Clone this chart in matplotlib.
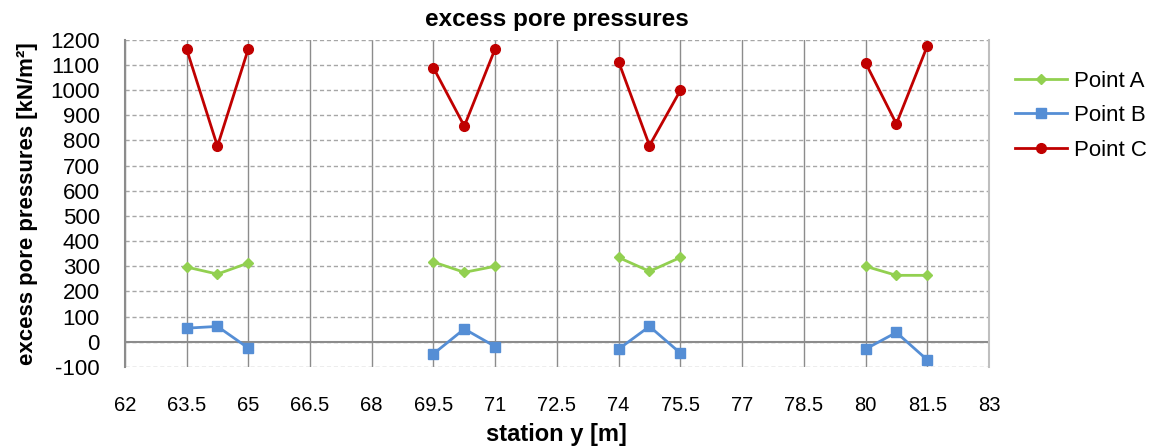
import numpy as np
import matplotlib
matplotlib.use('Agg')
import matplotlib.pyplot as plt

plt.rcParams['font.family'] = ['Liberation Sans', 'DejaVu Sans']
plt.rcParams['axes.unicode_minus'] = False

# station positions, three per measuring group
stations = [63.5, 64.25, 65, 69.5, 70.25, 71, 74, 74.75, 75.5, 80, 80.75, 81.5]
point_a = [297, 269, 313, 317, 276, 300, 335, 280, 335, 300, 264, 264]
point_b = [54, 61, -25, -48, 51, -19, -29, 61, -45, -29, 37, -72]
point_c = [1164, 777, 1164, 1089, 857, 1165, 1113, 780, 999, 1109, 866, 1175]
x_ticks = [62, 63.5, 65, 66.5, 68, 69.5, 71, 72.5, 74, 75.5, 77, 78.5, 80, 81.5, 83]
y_ticks = list(range(-100, 1300, 100))

fig = plt.figure(figsize=(11.56, 4.48), dpi=100)
ax = fig.add_axes([0.108, 0.181, 0.7475, 0.730])

series = [
    ('Point A', point_a, '#92d050', 'D', 5),
    ('Point B', point_b, '#558ed5', 's', 7),
    ('Point C', point_c, '#c00000', 'o', 7),
]

x = np.array(stations)
for name, vals, col, mk, ms in series:
    v = np.array(vals)
    for g in range(0, len(x), 3):
        ax.plot(x[g:g + 3], v[g:g + 3], color=col, marker=mk, markersize=ms,
                linewidth=2, label=name if g == 0 else None, zorder=3)

ax.set_xlim(62, 83)
ax.set_ylim(-100, 1200)
ax.set_xticks(x_ticks)
ax.set_xticklabels([f'{t:g}' for t in x_ticks])
ax.set_yticks(y_ticks)

ax.grid(axis='x', color='#8c8c8c', linewidth=1, linestyle='-')
ax.grid(axis='y', color='#a6a6a6', linewidth=1, linestyle=(0, (3, 2)))
ax.axhline(0, color='#8c8c8c', linewidth=1.5, zorder=2)
ax.set_axisbelow(True)

for s in ['top', 'bottom']:
    ax.spines[s].set_visible(False)
ax.spines['left'].set_color('#8c8c8c')
ax.spines['left'].set_linewidth(1.5)
ax.spines['right'].set_color('#bfbfbf')
ax.spines['right'].set_linewidth(1.5)
ax.tick_params(axis='y', length=0, labelsize=16, pad=18)
ax.tick_params(axis='x', length=0, labelsize=14.5, pad=21)

ax.set_title('excess pore pressures', fontsize=17.5, fontweight='bold', pad=10)
ax.set_xlabel('station y [m]', fontsize=17, fontweight='bold', labelpad=6)
ax.set_ylabel('excess pore pressures [kN/m²]', fontsize=16, fontweight='bold', labelpad=9)

ax.legend(loc='upper left', bbox_to_anchor=(1.03, 0.905), frameon=False,
          borderaxespad=0, borderpad=0,
          fontsize=16, handlelength=2.35, labelspacing=0.6, handletextpad=0.3)

plt.savefig('out.png', dpi=100)
